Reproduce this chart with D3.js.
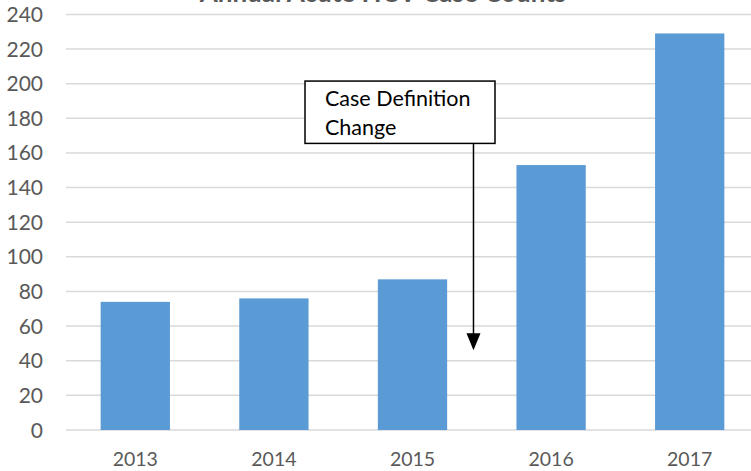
<!DOCTYPE html>
<html><head><meta charset="utf-8">
<script src="https://cdn.jsdelivr.net/npm/d3@7"></script>
<style>
html,body{margin:0;padding:0;background:#fff;overflow:hidden}
svg{display:block}
text{font-family:Lato,"Open Sans",sans-serif}
</style></head>
<body>
<svg id="c" width="751" height="471"></svg>
<script>
const title = "Annual Acute HCV Case Counts";
const years = ["2013","2014","2015","2016","2017"];
const counts = [74, 76, 87, 153, 229];
const yTicks = [0,20,40,60,80,100,120,140,160,180,200,220,240];
const annotationLines = ["Case Definition","Change"];

const svg = d3.select("#c");
const plotL = 66, plotR = 759, plotT = 14.4, plotB = 430;
const x = d3.scaleBand().domain(years).range([plotL, plotR]).paddingInner(0.5).paddingOuter(0.25);
const y = d3.scaleLinear().domain([0,240]).range([plotB, plotT]);

// gridlines
svg.append("g").selectAll("line").data(yTicks).join("line")
  .attr("x1", plotL).attr("x2", plotR)
  .attr("y1", d=>y(d)).attr("y2", d=>y(d))
  .attr("stroke", "#d9d9d9").attr("stroke-width", 1.5);

// y labels
svg.append("g").selectAll("text").data(yTicks).join("text")
  .attr("x", 43).attr("y", d=>y(d)).attr("dy","0.36em")
  .attr("text-anchor","end").attr("font-size", 21).attr("fill","#595959")
  .text(d=>d);

// bars
svg.append("g").selectAll("rect").data(years).join("rect")
  .attr("x", d=>x(d)).attr("width", x.bandwidth())
  .attr("y", (d,i)=>y(counts[i])).attr("height", (d,i)=>y(0)-y(counts[i]))
  .attr("fill","#5b9bd5");

// x labels
svg.append("g").selectAll("text").data(years).join("text")
  .attr("x", d=>x(d)+x.bandwidth()/2).attr("y", 466)
  .attr("text-anchor","middle").attr("font-size", 19.5).attr("fill","#595959")
  .text(d=>d);

// title (clipped at top, as in the reference)
svg.append("text").attr("x", 383).attr("y", 1.5)
  .attr("text-anchor","middle").attr("font-size", 26).attr("font-weight","bold")
  .attr("fill","#595959").text(title);

// annotation
const ax = x("2016") - x.step()*0.31;
const boxL = 305, boxR = 495, boxT = y(201.5), boxB = y(165.5);
svg.append("rect").attr("x", boxL).attr("y", boxT).attr("width", boxR-boxL).attr("height", boxB-boxT)
  .attr("fill","#fff").attr("stroke","#000").attr("stroke-width",1.5);
svg.append("g").selectAll("text").data(annotationLines).join("text")
  .attr("x", 325).attr("y", (d,i)=>106.3 + i*28.4)
  .attr("font-size", 21.5).attr("fill","#000").text(d=>d);
const tipY = y(46);
svg.append("line").attr("x1", ax).attr("x2", ax).attr("y1", boxB).attr("y2", tipY-14)
  .attr("stroke","#000").attr("stroke-width",1.5);
svg.append("path").attr("d", `M${ax-7},${tipY-17}L${ax+7},${tipY-17}L${ax},${tipY}Z`).attr("fill","#000");
</script>
</body></html>
